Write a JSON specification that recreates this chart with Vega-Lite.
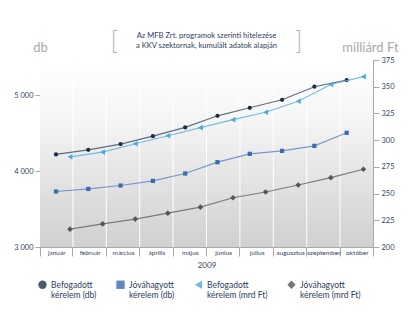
{
  "$schema": "https://vega.github.io/schema/vega-lite/v6.json",
  "width": 333,
  "height": 187,
  "autosize": {"type": "none"},
  "padding": {"left": 40, "top": 60, "right": 43, "bottom": 87},
  "background": "#ffffff",
  "config": {
    "font": "Lato",
    "view": {"stroke": null},
    "axis": {"labelFont": "Lato", "titleFont": "Lato", "labelColor": "#34465e", "domainColor": "#a9a9a9", "tickColor": "#a9a9a9", "zindex": 1}
  },
  "title": {
    "text": "[\u2003\u2003\u2003\u2003\u2003\u2003\u2003\u2003\u00a0\u00a0\u00a0\u00a0]",
    "subtitle": ["Az MFB Zrt. programok szerinti hitelezése", "a KKV szektornak, kumulált adatok alapján"],
    "anchor": "middle",
    "frame": "group",
    "font": "Lato",
    "fontSize": 25,
    "fontWeight": 300,
    "color": "#b3b3b3",
    "subtitleFont": "Lato",
    "subtitleFontSize": 7.6,
    "subtitleColor": "#2c3e5c",
    "subtitleLineHeight": 9.6,
    "subtitlePadding": -22.5,
    "offset": -13
  },
  "data": {
    "values": [
      {"month": "január", "series": "Befogadott kérelem (db)", "unit": "db", "value": 4219},
      {"month": "február", "series": "Befogadott kérelem (db)", "unit": "db", "value": 4280},
      {"month": "március", "series": "Befogadott kérelem (db)", "unit": "db", "value": 4355},
      {"month": "április", "series": "Befogadott kérelem (db)", "unit": "db", "value": 4460},
      {"month": "május", "series": "Befogadott kérelem (db)", "unit": "db", "value": 4575},
      {"month": "június", "series": "Befogadott kérelem (db)", "unit": "db", "value": 4728},
      {"month": "július", "series": "Befogadott kérelem (db)", "unit": "db", "value": 4834},
      {"month": "augusztus", "series": "Befogadott kérelem (db)", "unit": "db", "value": 4939},
      {"month": "szeptember", "series": "Befogadott kérelem (db)", "unit": "db", "value": 5111},
      {"month": "október", "series": "Befogadott kérelem (db)", "unit": "db", "value": 5199},
      {"month": "január", "series": "Jóváhagyott kérelem (db)", "unit": "db", "value": 3731},
      {"month": "február", "series": "Jóváhagyott kérelem (db)", "unit": "db", "value": 3765},
      {"month": "március", "series": "Jóváhagyott kérelem (db)", "unit": "db", "value": 3810},
      {"month": "április", "series": "Jóváhagyott kérelem (db)", "unit": "db", "value": 3871},
      {"month": "május", "series": "Jóváhagyott kérelem (db)", "unit": "db", "value": 3968},
      {"month": "június", "series": "Jóváhagyott kérelem (db)", "unit": "db", "value": 4117},
      {"month": "július", "series": "Jóváhagyott kérelem (db)", "unit": "db", "value": 4227},
      {"month": "augusztus", "series": "Jóváhagyott kérelem (db)", "unit": "db", "value": 4266},
      {"month": "szeptember", "series": "Jóváhagyott kérelem (db)", "unit": "db", "value": 4332},
      {"month": "október", "series": "Jóváhagyott kérelem (db)", "unit": "db", "value": 4504},
      {"month": "január", "series": "Befogadott kérelem (mrd Ft)", "unit": "Ft", "value": 284.4},
      {"month": "február", "series": "Befogadott kérelem (mrd Ft)", "unit": "Ft", "value": 288.8},
      {"month": "március", "series": "Befogadott kérelem (mrd Ft)", "unit": "Ft", "value": 296.6},
      {"month": "április", "series": "Befogadott kérelem (mrd Ft)", "unit": "Ft", "value": 304.1},
      {"month": "május", "series": "Befogadott kérelem (mrd Ft)", "unit": "Ft", "value": 311.7},
      {"month": "június", "series": "Befogadott kérelem (mrd Ft)", "unit": "Ft", "value": 319.2},
      {"month": "július", "series": "Befogadott kérelem (mrd Ft)", "unit": "Ft", "value": 326.1},
      {"month": "augusztus", "series": "Befogadott kérelem (mrd Ft)", "unit": "Ft", "value": 336.4},
      {"month": "szeptember", "series": "Befogadott kérelem (mrd Ft)", "unit": "Ft", "value": 352.1},
      {"month": "október", "series": "Befogadott kérelem (mrd Ft)", "unit": "Ft", "value": 359.4},
      {"month": "január", "series": "Jóváhagyott kérelem (mrd Ft)", "unit": "Ft", "value": 216.7},
      {"month": "február", "series": "Jóváhagyott kérelem (mrd Ft)", "unit": "Ft", "value": 221.6},
      {"month": "március", "series": "Jóváhagyott kérelem (mrd Ft)", "unit": "Ft", "value": 226.1},
      {"month": "április", "series": "Jóváhagyott kérelem (mrd Ft)", "unit": "Ft", "value": 231.7},
      {"month": "május", "series": "Jóváhagyott kérelem (mrd Ft)", "unit": "Ft", "value": 237.3},
      {"month": "június", "series": "Jóváhagyott kérelem (mrd Ft)", "unit": "Ft", "value": 246.1},
      {"month": "július", "series": "Jóváhagyott kérelem (mrd Ft)", "unit": "Ft", "value": 251.5},
      {"month": "augusztus", "series": "Jóváhagyott kérelem (mrd Ft)", "unit": "Ft", "value": 258.0},
      {"month": "szeptember", "series": "Jóváhagyott kérelem (mrd Ft)", "unit": "Ft", "value": 264.9},
      {"month": "október", "series": "Jóváhagyott kérelem (mrd Ft)", "unit": "Ft", "value": 272.8}
    ]
  },
  "layer": [
    {
      "transform": [{"filter": "datum.series == 'Befogadott kérelem (db)'"}],
      "mark": {"type": "rect", "color": {"gradient": "linear", "x1": 0, "y1": 0, "x2": 0, "y2": 1, "stops": [{"offset": 0, "color": "#ffffff"}, {"offset": 0.3, "color": "#f6f6f6"}, {"offset": 1, "color": "#d0d0d0"}]}},
      "encoding": {
        "x": {
          "field": "month", "type": "ordinal",
          "sort": ["január", "február", "március", "április", "május", "június", "július", "augusztus", "szeptember", "október"],
          "scale": {"type": "band", "paddingInner": 0.03, "paddingOuter": 0},
          "axis": {"title": "2009", "titleFontSize": 8, "titleFontWeight": "normal", "titleColor": "#34465e", "titleY": 18, "titleBaseline": "middle", "labelFontSize": 6.5, "labelAngle": 0, "labelPadding": -7, "tickSize": 9, "tickBand": "extent", "grid": false}
        }
      }
    },
    {
      "transform": [{"filter": "datum.unit == 'db'"}],
      "encoding": {
        "x": {
          "field": "month", "type": "ordinal",
          "sort": ["január", "február", "március", "április", "május", "június", "július", "augusztus", "szeptember", "október"],
          "scale": {"type": "point", "padding": 0.655, "align": 0.378},
          "axis": null
        },
        "y": {
          "field": "value", "type": "quantitative",
          "scale": {"domain": [3000, 5463], "nice": false, "zero": false},
          "axis": {"orient": "left", "values": [3000, 4000, 5000], "labelExpr": "replace(format(datum.value, ','), ',', ' ')", "labelFontSize": 7.5, "tickSize": 5, "labelPadding": 2, "grid": false, "title": "db", "titleAngle": 0, "titleX": 0, "titleY": -8.5, "titleAlign": "center", "titleBaseline": "alphabetic", "titleFontSize": 13, "titleFontWeight": "normal", "titleColor": "#a8a8a8"}
        }
      },
      "layer": [
        {"mark": {"type": "line", "strokeWidth": 1.2, "opacity": 0.8},
         "encoding": {
           "detail": {"field": "series", "type": "nominal"},
           "stroke": {"field": "series", "type": "nominal", "scale": {"domain": ["Befogadott kérelem (db)", "Jóváhagyott kérelem (db)", "Befogadott kérelem (mrd Ft)", "Jóváhagyott kérelem (mrd Ft)"], "range": ["#3b4c61", "#5a85c2", "#5cb4e0", "#6a6a6a"]}}
         }},
        {"mark": {"type": "point", "filled": true, "opacity": 1, "size": 18},
         "encoding": {
           "color": {"field": "series", "type": "nominal",
             "scale": {"domain": ["Befogadott kérelem (db)", "Jóváhagyott kérelem (db)", "Befogadott kérelem (mrd Ft)", "Jóváhagyott kérelem (mrd Ft)"], "range": ["#1c2e45", "#3a6cb2", "#4aa9d8", "#555555"]},
             "legend": {"orient": "none", "legendX": -2, "legendY": 220, "direction": "horizontal", "columns": 4, "title": null, "columnPadding": 19, "labelFont": "Lato", "labelFontSize": 8.5, "labelFontWeight": "normal", "labelColor": "#2c3e5c", "labelLimit": 120, "symbolSize": 70, "labelOffset": 4, "symbolStrokeWidth": 0,
               "labelExpr": "[substring(datum.label, 0, indexof(datum.label, ' ')), substring(datum.label, indexof(datum.label, ' ') + 1)]"}},
           "shape": {"field": "series", "type": "nominal", "scale": {"domain": ["Befogadott kérelem (db)", "Jóváhagyott kérelem (db)", "Befogadott kérelem (mrd Ft)", "Jóváhagyott kérelem (mrd Ft)"], "range": ["circle", "square", "triangle-left", "diamond"]}}
         }}
      ]
    },
    {
      "transform": [{"filter": "datum.unit == 'Ft'"}],
      "encoding": {
        "x": {
          "field": "month", "type": "ordinal",
          "sort": ["január", "február", "március", "április", "május", "június", "július", "augusztus", "szeptember", "október"],
          "scale": {"type": "point", "padding": 0.607, "align": 0.758},
          "axis": null
        },
        "y": {
          "field": "value", "type": "quantitative",
          "scale": {"domain": [200, 375], "nice": false, "zero": false},
          "axis": {"orient": "right", "values": [200, 225, 250, 275, 300, 325, 350, 375], "labelFontSize": 7.5, "tickSize": 6, "labelPadding": 2, "grid": false, "title": "milliárd Ft", "titleAngle": 0, "titleX": -3, "titleY": -8.5, "titleAlign": "center", "titleBaseline": "alphabetic", "titleFontSize": 13, "titleFontWeight": "normal", "titleColor": "#a8a8a8"}
        }
      },
      "layer": [
        {"mark": {"type": "line", "strokeWidth": 1.2, "opacity": 0.85},
         "encoding": {
           "detail": {"field": "series", "type": "nominal"},
           "stroke": {"field": "series", "type": "nominal"}
         }},
        {"mark": {"type": "point", "filled": true, "opacity": 1, "size": 32},
         "encoding": {
           "color": {"field": "series", "type": "nominal"},
           "shape": {"field": "series", "type": "nominal"}
         }}
      ]
    }
  ],
  "resolve": {"scale": {"x": "independent", "y": "independent"}}
}
